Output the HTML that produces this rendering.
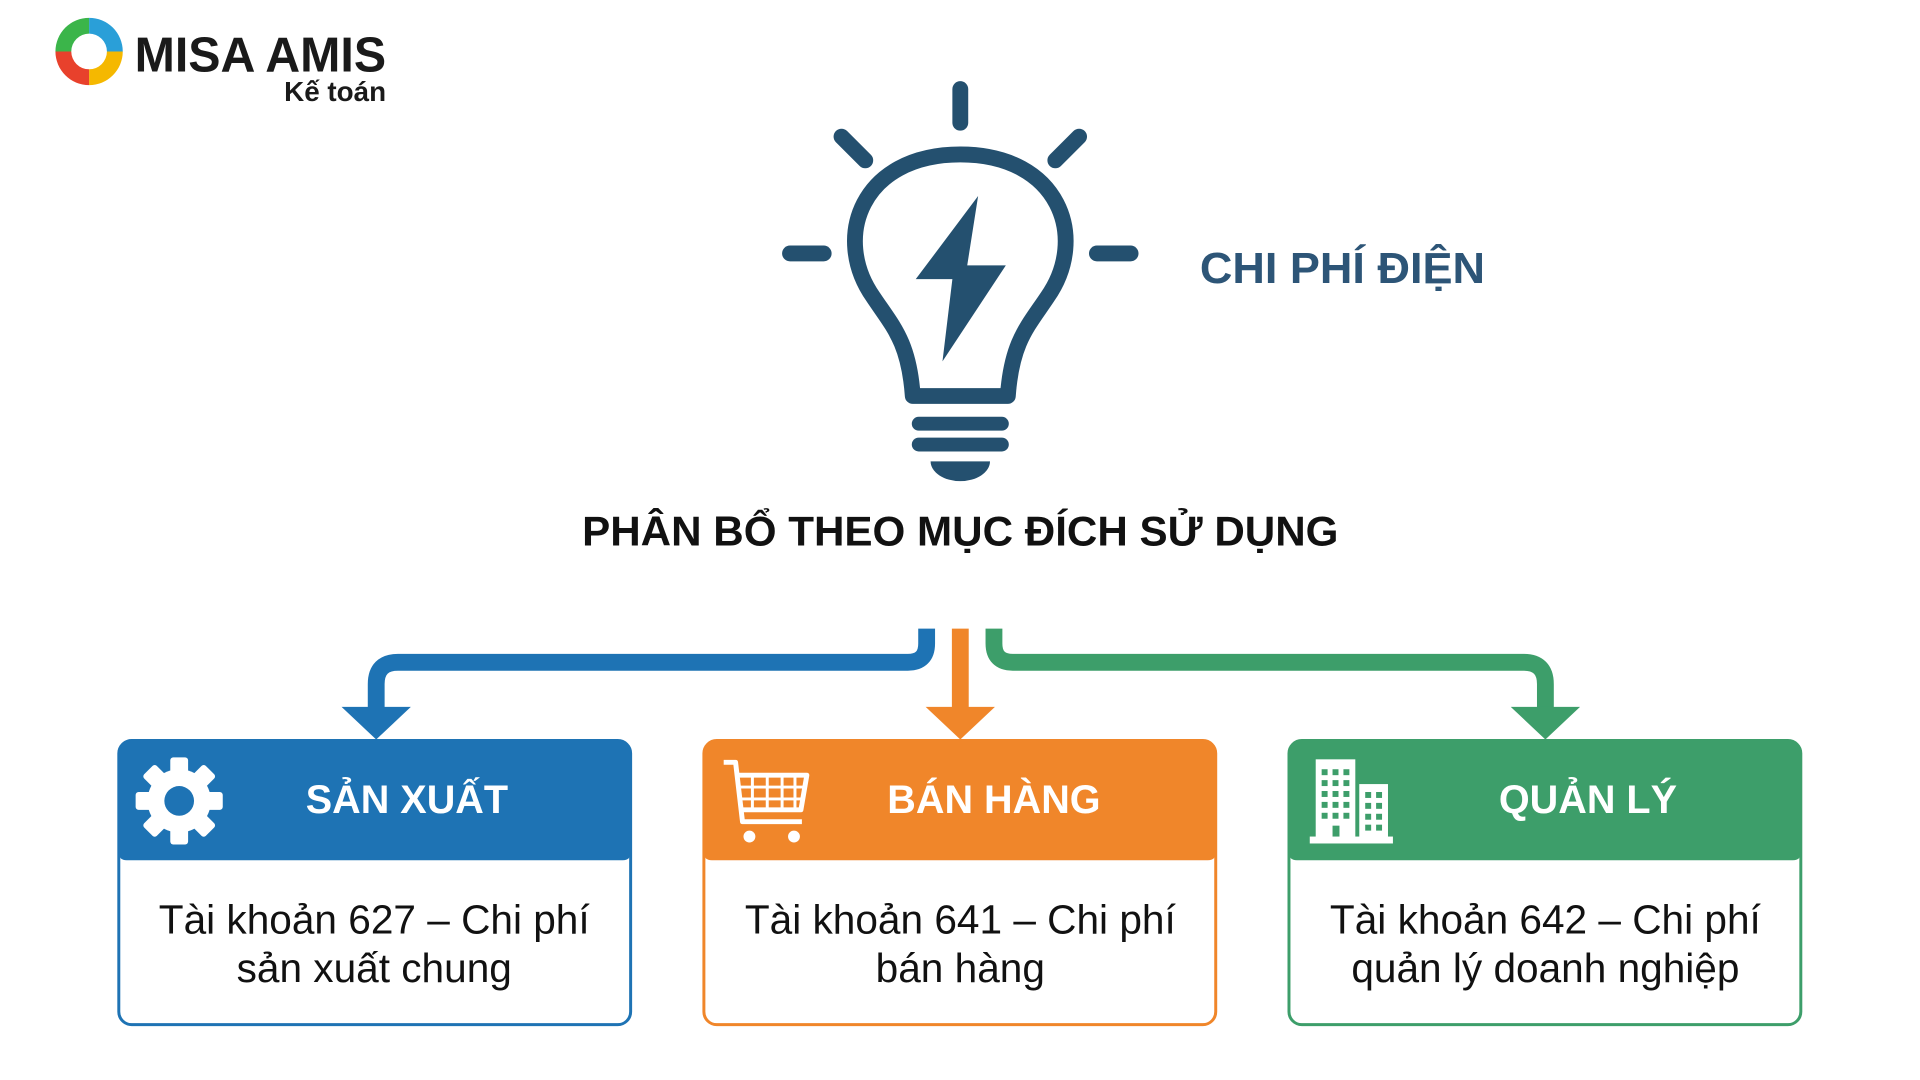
<!DOCTYPE html>
<html><head><meta charset="utf-8"><style>
html,body{margin:0;padding:0;background:#fff;width:1920px;height:1080px;overflow:hidden}
svg{display:block}
text{font-family:"Liberation Sans","DejaVu Sans",sans-serif}
</style></head><body>
<svg width="1920" height="1080" viewBox="0 0 1920 1080" xmlns="http://www.w3.org/2000/svg">
<g transform="scale(0.99)">
<!-- logo -->
<g>
<path d="M90 18 A34 34 0 0 1 124 52 L108 52 A18 18 0 0 0 90 34 Z" fill="#2a9fd8"/>
<path d="M124 52 A34 34 0 0 1 90 86 L90 70 A18 18 0 0 0 108 52 Z" fill="#f5b800"/>
<path d="M90 86 A34 34 0 0 1 56 52 L72 52 A18 18 0 0 0 90 70 Z" fill="#e8412c"/>
<path d="M56 52 A34 34 0 0 1 90 18 L90 34 A18 18 0 0 0 72 52 Z" fill="#3bb54a"/>
<text x="136" y="72" font-size="50" font-weight="bold" fill="#1a1a1a" textLength="254" lengthAdjust="spacingAndGlyphs">MISA AMIS</text>
<text x="287" y="102" font-size="28" font-weight="bold" fill="#1a1a1a" textLength="103" lengthAdjust="spacingAndGlyphs">Kế toán</text>
</g>
<!-- bulb -->
<g stroke="#24506f" stroke-width="16" stroke-linecap="round" fill="none">
<line x1="970" y1="90" x2="970" y2="124"/>
<line x1="850" y1="138" x2="874" y2="162"/>
<line x1="1090" y1="138" x2="1066" y2="162"/>
<line x1="798" y1="256" x2="832" y2="256"/>
<line x1="1108" y1="256" x2="1142" y2="256"/>
<path d="M922 400 C918 345 902 330 882 300 C840 240 870 156 970 156 C1070 156 1100 240 1058 300 C1038 330 1022 345 1018 400 Z" stroke-linejoin="round"/>
<line x1="928" y1="428" x2="1012" y2="428" stroke-width="14"/>
<line x1="928" y1="449" x2="1012" y2="449" stroke-width="14"/>
</g>
<path d="M940 466 L1000 466 A30 20 0 0 1 940 466 Z" fill="#24506f"/>
<polygon points="988,198 925,282 962,282 952,365 1016,268 977,268" fill="#24506f"/>
<text x="1212" y="286" font-size="44" font-weight="bold" fill="#2d5577" textLength="288" lengthAdjust="spacingAndGlyphs">CHI PHÍ ĐIỆN</text>
<text x="588" y="551" font-size="42" font-weight="bold" fill="#111" textLength="764" lengthAdjust="spacingAndGlyphs">PHÂN BỔ THEO MỤC ĐÍCH SỬ DỤNG</text>
<!-- arrows -->
<path d="M936 635 L936 650 Q936 669 917 669 L402 669 Q380 669 380 691 L380 718" stroke="#1e73b4" stroke-width="17" fill="none"/>
<polygon points="345,714 415,714 380,747" fill="#1e73b4"/>
<path d="M970 635 L970 718" stroke="#f0862a" stroke-width="17" fill="none"/>
<polygon points="935,714 1005,714 970,747" fill="#f0862a"/>
<path d="M1004 635 L1004 650 Q1004 669 1023 669 L1539 669 Q1561 669 1561 691 L1561 718" stroke="#3d9e6a" stroke-width="17" fill="none"/>
<polygon points="1526,714 1596,714 1561,747" fill="#3d9e6a"/>
<!-- boxes -->
<g>
<rect x="120" y="748" width="517" height="287" rx="13" fill="#fff" stroke="#1e73b4" stroke-width="3"/>
<path d="M120 861 L120 761 Q120 748 133 748 L624 748 Q637 748 637 761 L637 861 Q637 869 629 869 L128 869 Q120 869 120 861 Z" fill="#1e73b4"/>
<text x="411" y="821" font-size="40" font-weight="bold" fill="#fff" text-anchor="middle">SẢN XUẤT</text>
<text x="378" y="943" font-size="41" fill="#111" text-anchor="middle">Tài khoản 627 – Chi phí</text>
<text x="378" y="992" font-size="41" fill="#111" text-anchor="middle">sản xuất chung</text>
<g transform="translate(181,809)" fill="#fff">
<circle r="32"/>
<g><rect x="-9" y="-44" width="18" height="88" rx="3"/><rect x="-9" y="-44" width="18" height="88" rx="3" transform="rotate(45)"/><rect x="-9" y="-44" width="18" height="88" rx="3" transform="rotate(90)"/><rect x="-9" y="-44" width="18" height="88" rx="3" transform="rotate(135)"/></g>
<circle r="15" fill="#1e73b4"/>
</g>
</g>
<g>
<rect x="711" y="748" width="517" height="287" rx="13" fill="#fff" stroke="#f0862a" stroke-width="3"/>
<path d="M711 861 L711 761 Q711 748 724 748 L1215 748 Q1228 748 1228 761 L1228 861 Q1228 869 1220 869 L719 869 Q711 869 711 861 Z" fill="#f0862a"/>
<text x="1004" y="821" font-size="40" font-weight="bold" fill="#fff" text-anchor="middle">BÁN HÀNG</text>
<text x="970" y="943" font-size="41" fill="#111" text-anchor="middle">Tài khoản 641 – Chi phí</text>
<text x="970" y="992" font-size="41" fill="#111" text-anchor="middle">bán hàng</text>
<g stroke="#fff" stroke-width="5" fill="none" stroke-linejoin="round">
<path d="M731 770 L743 770 L750 830 L810 830"/>
<path d="M745 783 L815 783 L809 818 L750 818"/>
<path d="M760 783 L760 818 M775 783 L775 818 M790 783 L790 818 M803 783 L803 818 M747 795 L813 795 M748 807 L811 807" stroke-width="3"/>
</g>
<circle cx="757" cy="845" r="6" fill="#fff"/><circle cx="802" cy="845" r="6" fill="#fff"/>
</g>
<g>
<rect x="1302" y="748" width="517" height="287" rx="13" fill="#fff" stroke="#3d9e6a" stroke-width="3"/>
<path d="M1302 861 L1302 761 Q1302 748 1315 748 L1806 748 Q1819 748 1819 761 L1819 861 Q1819 869 1811 869 L1310 869 Q1302 869 1302 861 Z" fill="#3d9e6a"/>
<text x="1604" y="821" font-size="40" font-weight="bold" fill="#fff" text-anchor="middle">QUẢN LÝ</text>
<text x="1561" y="943" font-size="41" fill="#111" text-anchor="middle">Tài khoản 642 – Chi phí</text>
<text x="1561" y="992" font-size="41" fill="#111" text-anchor="middle">quản lý doanh nghiệp</text>
<g transform="translate(13,8)">
<g fill="#fff">
<rect x="1316" y="759" width="40" height="84"/>
<rect x="1360" y="784" width="29" height="59"/>
<rect x="1310" y="837" width="84" height="7"/>
</g>
<g fill="#3d9e6a">
<rect x="1322" y="769" width="6" height="6"/><rect x="1333" y="769" width="6" height="6"/><rect x="1344" y="769" width="6" height="6"/>
<rect x="1322" y="780" width="6" height="6"/><rect x="1333" y="780" width="6" height="6"/><rect x="1344" y="780" width="6" height="6"/>
<rect x="1322" y="791" width="6" height="6"/><rect x="1333" y="791" width="6" height="6"/><rect x="1344" y="791" width="6" height="6"/>
<rect x="1322" y="802" width="6" height="6"/><rect x="1333" y="802" width="6" height="6"/><rect x="1344" y="802" width="6" height="6"/>
<rect x="1322" y="813" width="6" height="6"/><rect x="1333" y="813" width="6" height="6"/><rect x="1344" y="813" width="6" height="6"/>
<rect x="1333" y="826" width="7" height="11"/>
<rect x="1366" y="792" width="6" height="6"/><rect x="1377" y="792" width="6" height="6"/>
<rect x="1366" y="803" width="6" height="6"/><rect x="1377" y="803" width="6" height="6"/>
<rect x="1366" y="814" width="6" height="6"/><rect x="1377" y="814" width="6" height="6"/>
<rect x="1366" y="825" width="6" height="6"/><rect x="1377" y="825" width="6" height="6"/>
</g>
</g>
</g>
</g>
</svg>
</body></html>
